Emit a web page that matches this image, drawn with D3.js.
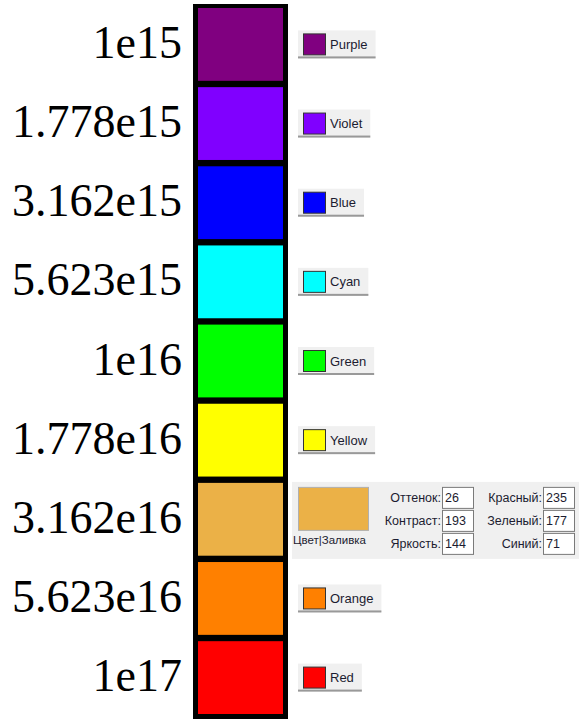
<!DOCTYPE html>
<html>
<head>
<meta charset="utf-8">
<script src="https://cdn.jsdelivr.net/npm/d3@7"></script>
<style>
  html, body { margin: 0; padding: 0; background: #fff; }
  svg { display: block; }
</style>
</head>
<body>
<svg id="chart" width="579" height="726"></svg>
<script>
// ---- data ----
const tickLabels = ["1e15", "1.778e15", "3.162e15", "5.623e15", "1e16", "1.778e16", "3.162e16", "5.623e16", "1e17"];
const colors = ["#800080", "#8000ff", "#0000ff", "#00ffff", "#00ff00", "#ffff00", "rgb(235,177,71)", "#ff8000", "#ff0000"];
const colorNames = ["Purple", "Violet", "Blue", "Cyan", "Green", "Yellow", null, "Orange", "Red"];
const hslLabels = ["Оттенок:", "Контраст:", "Яркость:"];
const hslValues = [26, 193, 144];
const rgbLabels = ["Красный:", "Зеленый:", "Синий:"];
const rgbValues = [235, 177, 71];
const panelCaption = "Цвет|Заливка";

// ---- layout ----
const svg = d3.select("#chart");
const frame = { x0: 193, x1: 288, y0: 4, y1: 719 };
const cellX0 = 198, cellX1 = 283;

const y = d3.scaleBand()
  .domain(tickLabels)
  .range([8, 714])
  .paddingInner(0.08)
  .paddingOuter(0);

// black frame
svg.append("rect")
  .attr("x", frame.x0).attr("y", frame.y0)
  .attr("width", frame.x1 - frame.x0).attr("height", frame.y1 - frame.y0)
  .attr("fill", "#000");

// colour cells
svg.selectAll("rect.cell")
  .data(tickLabels)
  .join("rect")
  .attr("class", "cell")
  .attr("x", cellX0)
  .attr("y", d => y(d))
  .attr("width", cellX1 - cellX0)
  .attr("height", y.bandwidth())
  .attr("fill", (d, i) => colors[i]);

// tick labels (axis on the left, no line / ticks)
const axis = d3.axisLeft(y).tickSize(0).tickPadding(0);
const gAxis = svg.append("g").attr("transform", "translate(182,-2)").call(axis);
gAxis.select(".domain").remove();
gAxis.selectAll("text")
  .attr("font-family", "'Liberation Serif', 'Times New Roman', serif")
  .attr("font-size", 46)
  .attr("fill", "#000")
  .attr("dy", null)
  .attr("dominant-baseline", "central")
  .attr("text-anchor", "end");

// legend buttons
const uiFont = "'Liberation Sans', Arial, sans-serif";
const btnX = 298;
tickLabels.forEach((lab, i) => {
  const name = colorNames[i];
  if (!name) return;
  const cy = y(lab) + y.bandwidth() / 2;
  const top = cy - 14;
  const g = svg.append("g");
  const bg = g.append("rect").attr("x", btnX).attr("y", top).attr("height", 28).attr("fill", "#f0f0f0");
  const line = g.append("rect").attr("x", btnX).attr("y", top + 26).attr("height", 2).attr("fill", "#999");
  g.append("rect")
    .attr("x", btnX + 5.5).attr("y", top + 3.5)
    .attr("width", 22).attr("height", 21)
    .attr("fill", colors[i]).attr("stroke", "#333").attr("stroke-width", 1);
  const t = g.append("text")
    .attr("x", btnX + 32).attr("y", top + 14)
    .attr("dominant-baseline", "central")
    .attr("font-family", uiFont).attr("font-size", 13)
    .attr("fill", "#1c1c30")
    .text(name);
  const w = 32 + t.node().getComputedTextLength() + 8;
  bg.attr("width", w);
  line.attr("width", w);
});

// colour picker panel at the tan cell
(function () {
  const lab = tickLabels[6];
  const top = y(lab) - 1;
  const g = svg.append("g");
  g.append("rect").attr("x", 292).attr("y", top).attr("width", 579 - 292).attr("height", 77).attr("fill", "#f0f0f0");
  g.append("rect").attr("x", 298.5).attr("y", top + 5.5).attr("width", 70).attr("height", 43)
    .attr("fill", colors[6]).attr("stroke", "#b0b0b0").attr("stroke-width", 1);
  g.append("text").attr("x", 293).attr("y", top + 62)
    .attr("font-family", uiFont).attr("font-size", 11.5).attr("fill", "#1c1c30")
    .text(panelCaption);
  const rowTops = [top + 5, top + 28, top + 51];
  const cols = [
    { labels: hslLabels, values: hslValues, labelRight: 441, boxX: 442 },
    { labels: rgbLabels, values: rgbValues, labelRight: 542, boxX: 543 }
  ];
  cols.forEach(c => {
    c.labels.forEach((l, r) => {
      const rt = rowTops[r];
      g.append("text").attr("x", c.labelRight).attr("y", rt + 11)
        .attr("dominant-baseline", "central").attr("text-anchor", "end")
        .attr("font-family", uiFont).attr("font-size", 12.5).attr("fill", "#1c1c30")
        .text(l);
      g.append("rect").attr("x", c.boxX + 0.5).attr("y", rt + 0.5).attr("width", 31).attr("height", 21)
        .attr("fill", "#fff").attr("stroke", "#7a7a7a").attr("stroke-width", 1);
      g.append("text").attr("x", c.boxX + 3).attr("y", rt + 11)
        .attr("dominant-baseline", "central")
        .attr("font-family", uiFont).attr("font-size", 12.5).attr("fill", "#1c1c30")
        .text(c.values[r]);
    });
  });
})();
</script>
</body>
</html>
